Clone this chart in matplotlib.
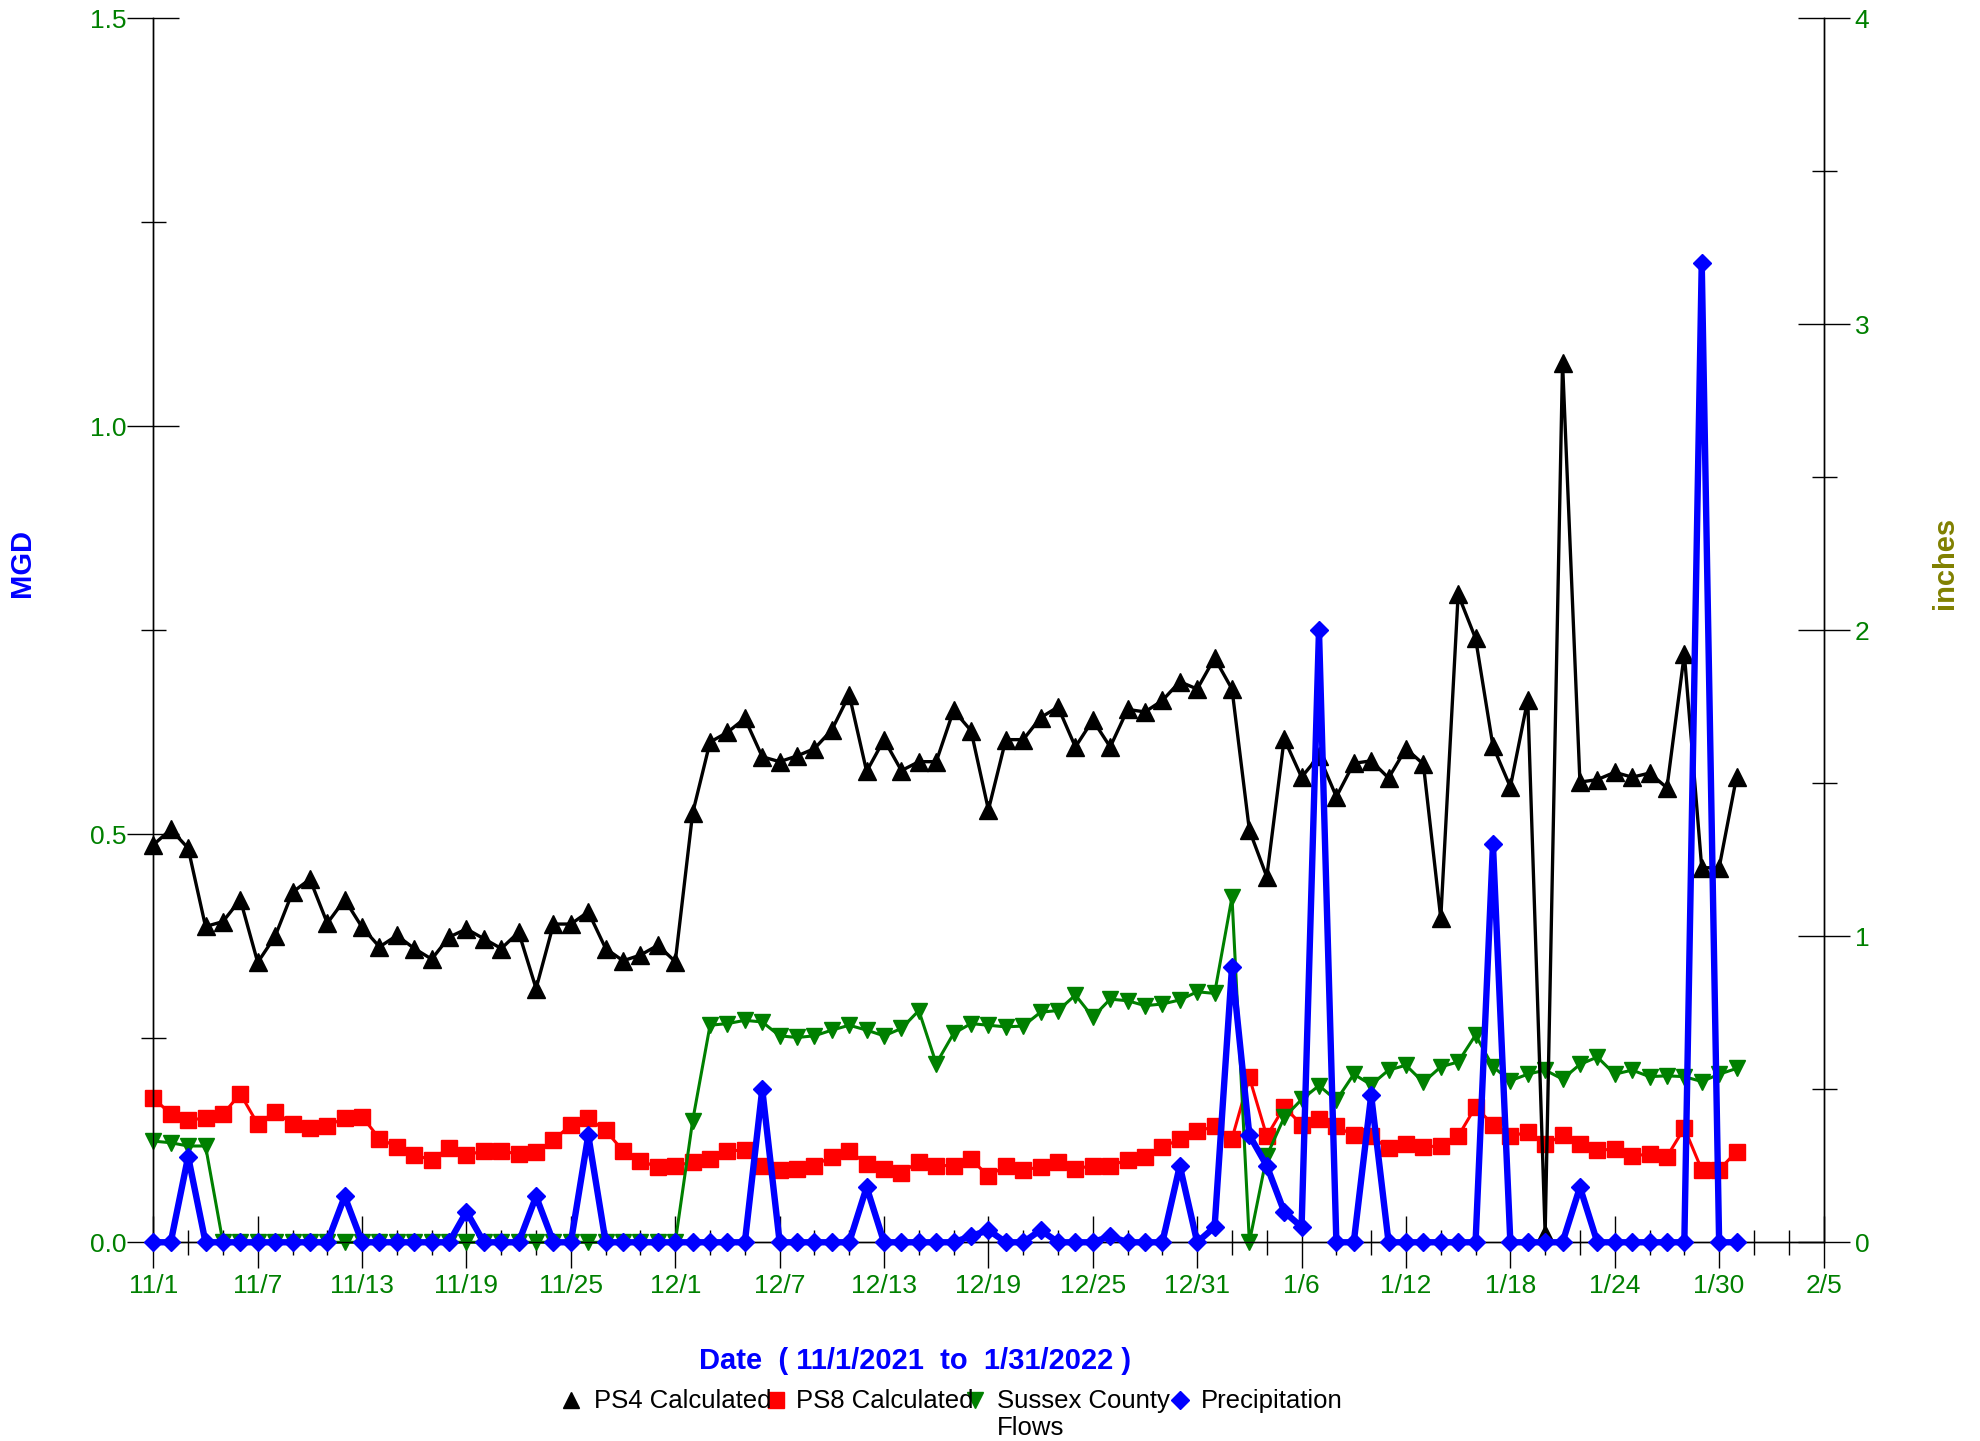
import numpy as np
import pandas as pd
import matplotlib
matplotlib.use("Agg")
import matplotlib.pyplot as plt
from matplotlib.lines import Line2D

plt.rcParams['font.family'] = ['Liberation Sans', 'DejaVu Sans']

# daily values 11/1/2021 .. 1/31/2022 (MGD), precipitation in inches
dates = pd.date_range('2021-11-01', '2022-01-31', freq='D')

ps4 = [0.487, 0.506, 0.483, 0.387, 0.393, 0.420, 0.343, 0.375, 0.429, 0.445,
       0.391, 0.420, 0.386, 0.362, 0.376, 0.360, 0.347, 0.374, 0.384, 0.372,
       0.360, 0.380, 0.311, 0.390, 0.390, 0.405, 0.360, 0.345, 0.352, 0.364,
       0.344, 0.526, 0.613, 0.625, 0.642, 0.595, 0.589, 0.596, 0.605, 0.628,
       0.671, 0.577, 0.616, 0.578, 0.589, 0.589, 0.652, 0.627, 0.530, 0.616,
       0.616, 0.643, 0.656, 0.607, 0.640, 0.607, 0.653, 0.650, 0.664, 0.687,
       0.678, 0.716, 0.678, 0.505, 0.448, 0.617, 0.570, 0.596, 0.546, 0.587,
       0.590, 0.569, 0.605, 0.586, 0.397, 0.794, 0.740, 0.608, 0.558, 0.665,
       0.010, 1.078, 0.564, 0.567, 0.576, 0.570, 0.575, 0.557, 0.721, 0.459,
       0.459, 0.570]

ps8 = [0.177, 0.157, 0.150, 0.152, 0.157, 0.182, 0.145, 0.160, 0.145, 0.140,
       0.143, 0.152, 0.154, 0.127, 0.117, 0.107, 0.101, 0.116, 0.107, 0.112,
       0.112, 0.108, 0.111, 0.125, 0.144, 0.152, 0.137, 0.112, 0.100, 0.092,
       0.093, 0.099, 0.102, 0.112, 0.113, 0.094, 0.089, 0.090, 0.094, 0.105,
       0.112, 0.096, 0.090, 0.085, 0.099, 0.094, 0.094, 0.102, 0.081, 0.094,
       0.089, 0.092, 0.099, 0.090, 0.094, 0.094, 0.101, 0.104, 0.117, 0.126,
       0.136, 0.142, 0.127, 0.202, 0.130, 0.166, 0.144, 0.151, 0.142, 0.131,
       0.130, 0.115, 0.121, 0.117, 0.118, 0.130, 0.166, 0.144, 0.130, 0.135,
       0.120, 0.131, 0.120, 0.113, 0.114, 0.106, 0.108, 0.105, 0.140, 0.089,
       0.089, 0.111]

sussex = [0.124, 0.122, 0.118, 0.118, 0.0, 0.0, 0.0, 0.0, 0.0, 0.0,
          0.0, 0.0, 0.0, 0.0, 0.0, 0.0, 0.0, 0.0, 0.0, 0.0,
          0.0, 0.0, 0.0, 0.0, 0.0, 0.0, 0.0, 0.0, 0.0, 0.0,
          0.0, 0.149, 0.266, 0.268, 0.272, 0.270, 0.253, 0.251, 0.253, 0.260,
          0.266, 0.260, 0.253, 0.262, 0.284, 0.219, 0.256, 0.268, 0.266, 0.264,
          0.265, 0.282, 0.284, 0.303, 0.276, 0.298, 0.296, 0.290, 0.292, 0.297,
          0.307, 0.305, 0.423, 0.0, 0.106, 0.153, 0.175, 0.192, 0.174, 0.206,
          0.193, 0.211, 0.217, 0.196, 0.215, 0.221, 0.254, 0.215, 0.198, 0.206,
          0.211, 0.200, 0.218, 0.227, 0.206, 0.211, 0.203, 0.204, 0.203, 0.197,
          0.206, 0.213]

precip = [0, 0, 0.28, 0, 0, 0, 0, 0, 0, 0,
          0, 0.15, 0, 0, 0, 0, 0, 0, 0.10, 0,
          0, 0, 0.15, 0, 0, 0.35, 0, 0, 0, 0,
          0, 0, 0, 0, 0, 0.50, 0, 0, 0, 0,
          0, 0.18, 0, 0, 0, 0, 0, 0.02, 0.04, 0,
          0, 0.04, 0, 0, 0, 0.02, 0, 0, 0, 0.25,
          0, 0.05, 0.90, 0.35, 0.25, 0.10, 0.05, 2.00, 0, 0,
          0.48, 0, 0, 0, 0, 0, 0, 1.30, 0, 0,
          0, 0, 0.18, 0, 0, 0, 0, 0, 0, 3.20,
          0, 0]

names = ['PS4 Calculated', 'PS8 Calculated', 'Sussex County\nFlows', 'Precipitation']

GREEN = '#008000'
BLUE = '#0000FF'
RED = '#FF0000'

fig = plt.figure(figsize=(19.81, 14.41), dpi=100)
ax = fig.add_axes([0.0774, 0.1379, 0.8431, 0.8494])
ax2 = ax.twinx()

# draw order: red, green, black, then blue on the twin axis
ax.plot(dates, ps8, color=RED, lw=2.2, marker='s', ms=12, mec=RED, clip_on=False, zorder=2)
ax.plot(dates, sussex, color=GREEN, lw=2.2, marker='v', ms=12, mec=GREEN, clip_on=False, zorder=3)
ax.plot(dates, ps4, color='black', lw=2.4, marker='^', ms=12.5, mec='black', clip_on=False, zorder=4)
ax2.plot(dates, precip, color=BLUE, lw=4.6, marker='D', ms=9.5, mec=BLUE, clip_on=False, zorder=5)

ax.set_xlim(pd.Timestamp('2021-11-01'), pd.Timestamp('2022-02-05'))
ax.set_ylim(0, 1.5)
ax2.set_ylim(0, 4)

major = pd.date_range('2021-11-01', '2022-02-05', freq='6D')
minor = pd.date_range('2021-11-01', '2022-02-05', freq='2D')
ax.set_xticks(major)
ax.set_xticklabels([f'{d.month}/{d.day}' for d in major])
ax.set_xticks(minor, minor=True)

ax.set_yticks([0, 0.5, 1.0, 1.5])
ax.set_yticklabels(['0.0', '0.5', '1.0', '1.5'])
ax.set_yticks(np.arange(0, 1.51, 0.25), minor=True)
ax2.set_yticks([0, 1, 2, 3, 4])
ax2.set_yticks(np.arange(0, 4.01, 0.5), minor=True)

for a in (ax, ax2):
    a.spines['top'].set_visible(False)
    for s in a.spines.values():
        s.set_linewidth(1.0)
    a.tick_params(which='major', direction='inout', length=37, width=1,
                  color='black', labelcolor=GREEN, labelsize=19)
    a.tick_params(which='minor', direction='inout', length=18, width=1, color='black')
ax.tick_params(axis='x', which='major', pad=4)
ax.tick_params(axis='y', which='major', pad=1)
ax2.tick_params(axis='y', which='major', pad=4)

fig.text(0.0111, 0.6093, 'MGD', color=BLUE, fontsize=21, fontweight='bold',
         rotation=90, ha='center', va='center')
fig.text(0.9818, 0.6093, 'inches', color='#808000', fontsize=21, fontweight='bold',
         rotation=90, ha='center', va='center')
fig.text(0.4619, 0.0555, 'Date  ( 11/1/2021  to  1/31/2022 )', color=BLUE,
         fontsize=21, fontweight='bold', ha='center', va='center')

# legend along the bottom
leg_marker = ['^', 's', 'v', 'D']
leg_color = ['black', RED, GREEN, BLUE]
leg_mx = [0.2882, 0.3917, 0.4922, 0.5957]
leg_tx = [0.2998, 0.4018, 0.5033, 0.6063]
leg_y = 0.0285
for name, mk, col, mx, tx in zip(names, leg_marker, leg_color, leg_mx, leg_tx):
    fig.add_artist(Line2D([mx], [leg_y], marker=mk, color=col, ms=11 if mk != 'D' else 9,
                          ls='none', transform=fig.transFigure))
    fig.text(tx, leg_y + 0.0078, name, fontsize=18.5, color='black', ha='left', va='top',
             linespacing=1.2)

fig.savefig('out.png', dpi=100)
